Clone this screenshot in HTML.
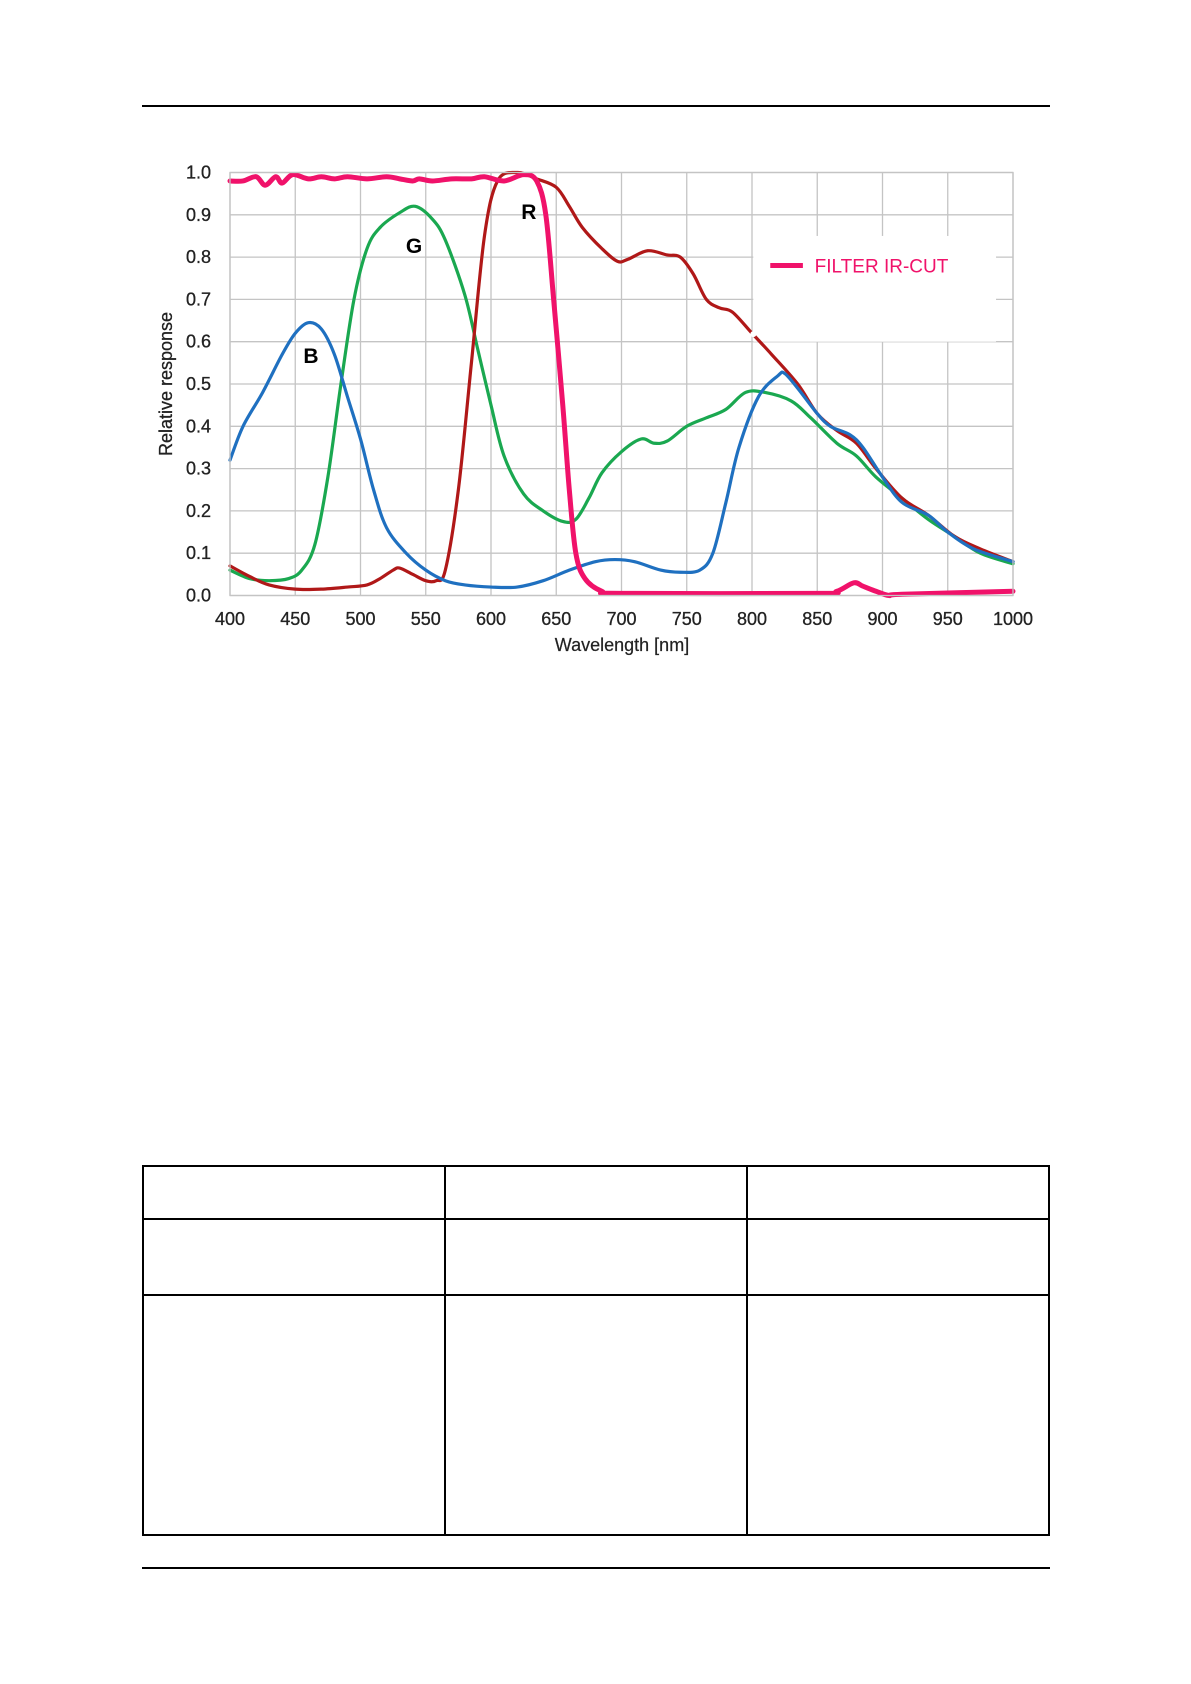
<!DOCTYPE html>
<html><head><meta charset="utf-8"><style>
body{margin:0;background:#fff;}
#wrap{position:relative;width:1191px;height:1684px;overflow:hidden;background:#fff;}
.hl{position:absolute;height:2px;background:#000;}
.vl{position:absolute;width:2px;background:#000;}
</style></head><body><div id="wrap">
<div class="hl" style="left:142px;top:105px;width:908px"></div>
<svg id="c" width="1191" height="700" style="position:absolute;left:0;top:0" font-family="Liberation Sans, sans-serif"></svg>
<div class="hl" style="left:142px;top:1165px;width:908px"></div>
<div class="hl" style="left:142px;top:1218px;width:908px"></div>
<div class="hl" style="left:142px;top:1294px;width:908px"></div>
<div class="hl" style="left:142px;top:1534px;width:908px"></div>
<div class="vl" style="left:142px;top:1165px;height:371px"></div>
<div class="vl" style="left:444px;top:1165px;height:371px"></div>
<div class="vl" style="left:746px;top:1165px;height:371px"></div>
<div class="vl" style="left:1048px;top:1165px;height:371px"></div>
<div class="hl" style="left:142px;top:1567px;width:908px"></div>
</div>
<script>
const X=n=>230+(n-400)*783/600, Y=v=>595.5-v*423;
let s='';
for(let n=400;n<=1000;n+=50){s+=`<line x1="${X(n)}" y1="${Y(1)}" x2="${X(n)}" y2="${Y(0)}" stroke="#c4c4c4" stroke-width="1.3"/>`;
s+=`<text x="${X(n)}" y="625" text-anchor="middle" font-size="18" fill="#222" stroke="#222" stroke-width="0.3">${n}</text>`;}
for(let i=0;i<=10;i++){const v=i/10;s+=`<line x1="230" y1="${Y(v)}" x2="1013" y2="${Y(v)}" stroke="#c4c4c4" stroke-width="1.3"/>`;
s+=`<text x="211" y="${Y(v)+6}" text-anchor="end" font-size="18" fill="#222" stroke="#222" stroke-width="0.3">${v.toFixed(1)}</text>`;}
s+=`<rect x="${X(801)}" y="${Y(0.85)}" width="${X(987)-X(801)}" height="${Y(0.6)-Y(0.85)}" fill="#fff"/>`;
s+=`<text transform="translate(172,384) rotate(-90)" text-anchor="middle" font-size="18" fill="#222" stroke="#222" stroke-width="0.3">Relative response</text>`;
s+=`<text x="622" y="651" text-anchor="middle" font-size="18" fill="#222" stroke="#222" stroke-width="0.2">Wavelength [nm]</text>`;
function path(d,c,w){const p=[];for(let i=0;i<d.length;i+=2)p.push([X(d[i]),Y(d[i+1])]);
let o=`M${p[0][0]},${p[0][1]}`;for(let i=0;i<p.length-1;i++){const a=p[i-1]||p[i],b=p[i],e=p[i+1],f=p[i+2]||e;
o+=`C${b[0]+(e[0]-a[0])/6},${b[1]+(e[1]-a[1])/6} ${e[0]-(f[0]-b[0])/6},${e[1]-(f[1]-b[1])/6} ${e[0]},${e[1]}`;}
return `<path d="${o}" fill="none" stroke="${c}" stroke-width="${w}" stroke-linejoin="round" stroke-linecap="round"/>`;}
const B=[400,.32,410,.40,425,.48,440,.57,450,.62,460,.645,470,.63,480,.57,490,.47,500,.37,510,.25,520,.16,535,.10,550,.06,565,.035,580,.025,600,.02,620,.02,640,.035,660,.06,680,.08,695,.085,710,.08,730,.06,745,.055,760,.06,770,.10,780,.22,790,.35,805,.47,820,.52,825,.525,835,.49,850,.43,860,.40,875,.38,885,.35,900,.28,915,.22,935,.19,950,.15,970,.11,1000,.08];
const G=[400,.06,415,.04,430,.035,445,.04,455,.06,465,.12,475,.28,485,.50,495,.70,505,.82,515,.87,530,.905,542,.92,555,.89,565,.84,580,.71,590,.58,600,.45,610,.33,625,.24,640,.20,655,.175,665,.18,675,.23,685,.29,700,.34,715,.37,725,.36,735,.365,750,.40,765,.42,780,.44,795,.48,810,.48,830,.46,845,.42,865,.36,880,.33,895,.28,915,.23,935,.18,955,.14,975,.10,1000,.075];
const R=[400,.07,415,.045,430,.025,450,.015,470,.015,490,.02,505,.025,515,.04,525,.06,530,.065,540,.05,550,.035,558,.035,565,.06,575,.25,585,.55,595,.85,605,.98,620,1.0,635,.985,650,.965,660,.92,670,.87,685,.82,697,.79,705,.795,720,.815,735,.805,745,.80,755,.76,765,.70,775,.68,785,.67,800,.62,815,.57,835,.50,850,.43,865,.39,880,.36,895,.30,915,.23,935,.19,955,.14,975,.11,1000,.08];
const P=[400,.98,410,.98,420,.99,427,.97,435,.99,440,.975,448,.995,460,.985,470,.99,480,.985,490,.99,505,.985,520,.99,530,.985,540,.98,545,.985,555,.98,570,.985,585,.985,595,.99,610,.98,625,.995,635,.98,642,.9,648,.7,655,.45,660,.25,665,.1,672,.04,685,.01,700,.005,850,.005,865,.01,878,.03,885,.022,895,.01,905,0,915,.003,1000,.01];
s+=path(G,'#1aa850',3.2)+path(R,'#b01818',3.2)+path(B,'#1f70c0',3.2);
s+=`<circle cx="${X(801)}" cy="${Y(.618)}" r="3" fill="#fff"/>`;
s+=path(P,'#f0126a',5);
s+=`<line x1="${X(814)}" y1="${Y(.78)}" x2="${X(839)}" y2="${Y(.78)}" stroke="#f0126a" stroke-width="5"/>`;
s+=`<text x="${X(848)}" y="${Y(.78)+7}" font-size="19" fill="#f0126a">FILTER IR-CUT</text>`;
s+=`<text x="${X(462)}" y="${Y(.55)}" text-anchor="middle" font-size="21" font-weight="bold">B</text>`;
s+=`<text x="${X(541)}" y="${Y(.81)}" text-anchor="middle" font-size="21" font-weight="bold">G</text>`;
s+=`<text x="${X(629)}" y="${Y(.89)}" text-anchor="middle" font-size="21" font-weight="bold">R</text>`;
s+=`<rect x="230" y="${Y(1)}" width="783" height="${Y(0)-Y(1)}" fill="none" stroke="#c4c4c4" stroke-width="1.3"/>`;
document.getElementById('c').innerHTML=s;
</script></body></html>
